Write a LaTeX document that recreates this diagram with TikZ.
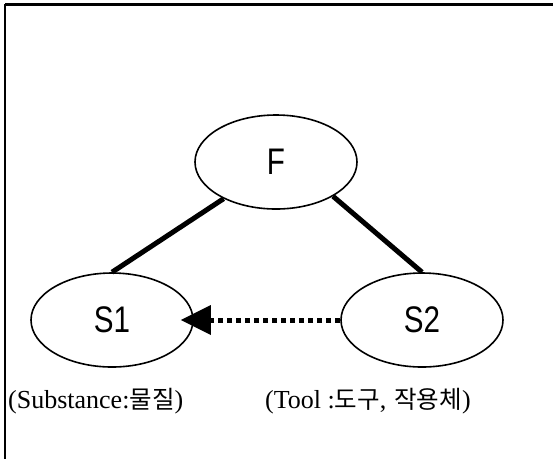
\documentclass[tikz,border=0pt]{standalone}
\usepackage{graphicx}
\usepackage{fontspec}
\setmainfont{Liberation Serif}
\newfontfamily\labelfont{Liberation Sans}
\newfontfamily\krfont{Noto Sans CJK KR}
\usetikzlibrary{shapes.geometric,arrows.meta}
\newcommand{\kr}[1]{{\krfont\fontsize{24.5}{25}\selectfont #1}}
\newcommand{\elemtext}[1]{\scalebox{0.8}[1]{#1}}
\begin{document}
\begin{tikzpicture}[x=1pt,y=-1pt,
  elem/.style={ellipse,draw,line width=1.6pt,minimum width=162pt,minimum height=94pt,inner sep=0pt,
    font=\labelfont\fontsize{37}{37}\selectfont},
  link/.style={line width=5pt},
  action/.style={line width=5pt,dash pattern=on 5pt off 4pt,
    -{Triangle[length=30pt,width=30pt,line width=0pt]}},
  caption/.style={inner sep=0pt,anchor=west,font=\fontsize{26}{26}\selectfont}]
  \useasboundingbox (0,0) rectangle (553,459);
  % frame: top and left edges only
  \draw[line width=3pt] (553,4) -- (5,4);
  \draw[line width=2pt] (5,4) -- (5,459);
  % field and substances
  \node[elem] (F) at (276,162) {\elemtext{F}};
  \node[elem] (S1) at (112,320) {\elemtext{S1}};
  \node[elem] (S2) at (422,320) {\elemtext{S2}};
  % interactions
  \draw[link] (F.215) -- (S1.north);
  \draw[link] (F.329) -- (S2.north);
  \draw[action,shorten >=-13pt] (S2.west) -- (S1.east);
  % captions
  \node[caption] (c1) at (8,401) {(Substance:\kr{물질})};
  \node[caption] (c2) at (265,401) {(Tool :\kr{도구},\hspace{8pt}\kr{작용체})};
\end{tikzpicture}
\end{document}
